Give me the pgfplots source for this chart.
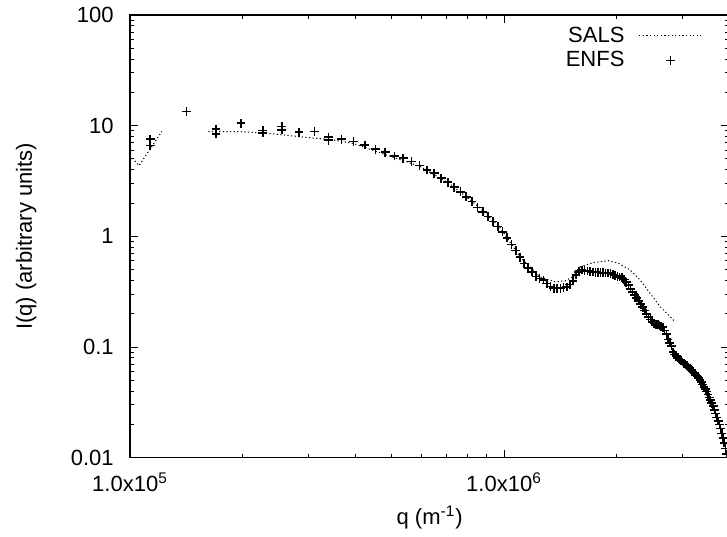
\documentclass[border=0pt]{standalone}
\usepackage{fontspec}
\setmainfont{Liberation Sans}
\usepackage{pgfplots}
\pgfplotsset{compat=1.18}
\newcommand{\fs}{\fontsize{11}{13}\selectfont}
\pgfplotsset{
  salsleg/.style={legend image code/.code={\draw[##1] (0pt,0pt) -- (31pt,0pt);}},
  enfsleg/.style={legend image code/.code={\draw[##1, mark options={line width=0.5pt}] plot coordinates {(15.5pt,0pt)};}},
}
\begin{document}
\begin{tikzpicture}
\begin{axis}[
  at={(0,0)}, anchor=south west,
  scale only axis, width=299.6pt, height=221.35pt,
  xmode=log, ymode=log,
  xmin=1e5, xmax=4e6, ymin=0.01, ymax=100,
  xtick={1e5,1e6},
  xticklabels={1.0x10\textsuperscript{5},1.0x10\textsuperscript{6}},
  minor xtick={2e5,3e5,4e5,5e5,6e5,7e5,8e5,9e5,2e6,3e6,4e6},
  ytick={0.01,0.1,1,10,100},
  yticklabels={0.01,0.1,1,10,100},
  minor ytick={0.02,0.03,0.04,0.05,0.06,0.07,0.08,0.09,0.2,0.3,0.4,0.5,0.6,0.7,0.8,0.9,2,3,4,5,6,7,8,9,20,30,40,50,60,70,80,90},
  major tick length=4pt, minor tick length=2pt,
  tick style={black, line width=0.5pt},
  axis line style={line width=0.6pt},
  tick label style={font=\fs},
  xticklabel style={anchor=base, yshift=-16.7pt, inner sep=0pt},
  yticklabel style={anchor=east, xshift=-8pt, inner sep=0pt},
  xlabel={q (m\textsuperscript{-1})},
  ylabel={I(q) (arbitrary units)},
  every axis x label/.style={at={(axis description cs:0.5,0)}, anchor=base, yshift=-33.2pt, inner sep=0pt, font=\fs},
  every axis y label/.style={at={(axis description cs:-0.164,0.5)}, rotate=90, anchor=base, inner sep=0pt, font=\fs},
  legend style={at={(1,1)}, anchor=north east, xshift=-13.75pt, yshift=-5.85pt,
    draw=none, fill=none, inner sep=0pt, outer sep=0pt, font=\fs,
    row sep=3.25pt, column sep=7.15pt, nodes={inner sep=0pt, outer sep=0pt}},
  legend cell align=right,
  legend plot pos=right,
  clip marker paths=true,
  unbounded coords=jump,
]
\addplot[black, line width=0.5pt, dash pattern=on 0.6pt off 1.2pt, salsleg]
coordinates {
(100000,5.37)(105700,4.35)(121600,8.87)(140000,nan)
(162000,8.83)(196800,8.83)(232000,8.54)(284800,7.95)(349000,7.43)(394700,6.93)
(504900,5.18)(596300,4.28)(717200,2.97)(862700,1.806)(975700,1.203)
(1104000,0.651)(1248000,0.430)(1369000,0.388)(1456000,0.396)(1548000,0.439)
(1597000,0.529)(1733000,0.579)(1901000,0.603)(2021000,0.571)(2173000,0.497)
(2310000,0.404)(2457000,0.306)(2613000,0.232)(2779000,0.188)(2866000,0.1696)
};
\addlegendentry{SALS}
\addplot[black, only marks, mark=+, mark size=2.2pt, mark options={line width=0.8pt}, enfsleg]
coordinates {
(113200,7.58)(113200,6.60)(141500,13.38)(169800,9.34)(169800,8.41)(198100,10.51)
(226400,9.01)(226400,8.59)(254700,9.79)(254700,9.14)(283000,8.72)(311300,8.83)
(339600,7.86)(339600,7.38)(367900,7.54)
(396200,7.17)(424500,6.69)(452800,6.12)(481100,5.75)(509400,5.32)(537700,5.08)
(566000,4.73)(594300,4.35)(622600,3.98)(650900,3.72)(679200,3.35)(707500,3.08)
(735800,2.78)(764100,2.53)(792400,2.28)(820700,2.06)(849000,1.83)(877300,1.67)
(905600,1.51)(933900,1.36)(962200,1.224)(990500,1.10)(1018800,0.969)(1047100,0.841)
(1075400,0.746)(1103700,0.647)(1132000,0.570)(1160300,0.516)(1188600,0.476)
(1216900,0.435)(1245200,0.417)(1273500,0.404)(1301800,0.375)(1330100,0.353)
(1358400,0.340)(1386700,0.340)(1415000,0.340)(1443300,0.345)(1471600,0.349)
(1499900,0.367)(1528200,0.396)(1556500,0.449)(1584800,0.478)(1613100,0.497)
(1641400,0.491)(1669700,0.486)(1698000,0.480)(1726300,0.477)(1754600,0.475)
(1782900,0.472)(1811200,0.470)(1839500,0.468)(1867800,0.467)(1896100,0.466)
(1924400,0.462)(1952700,0.453)(1981000,0.444)(2009300,0.437)(2037600,0.430)
(2065900,0.423)(2094200,0.409)(2122500,0.385)(2150800,0.363)(2179100,0.336)
(2207400,0.314)(2235700,0.294)(2264000,0.278)(2292300,0.262)(2320600,0.244)
(2348900,0.229)(2377200,0.213)(2405500,0.200)(2433800,0.187)(2462100,0.1776)
(2490400,0.1693)(2518700,0.1631)(2547000,0.1611)(2575300,0.1591)(2603600,0.1564)
(2631900,0.1536)(2660200,0.1510)(2688500,0.1409)(2716800,0.1305)(2745100,0.1174)
(2773400,0.1093)(2801700,0.1021)(2830000,0.0901)(2858300,0.0855)(2886600,0.0828)
(2914900,0.0800)(2943200,0.0774)(2971500,0.0753)(2999800,0.0732)(3028100,0.0714)
(3056400,0.0695)(3084700,0.0678)(3113000,0.0660)(3141300,0.0645)(3169600,0.0622)
(3197900,0.0599)(3226200,0.0580)(3254500,0.0560)(3282800,0.0541)(3311100,0.0523)
(3339400,0.0505)(3367700,0.0483)(3396000,0.0458)(3424300,0.0437)(3452600,0.0416)
(3480900,0.0397)(3509200,0.0374)(3537500,0.0351)(3565800,0.0331)(3594100,0.0311)
(3622400,0.0292)(3650700,0.0270)(3679000,0.0251)(3707300,0.0231)(3735600,0.0215)
(3763900,0.0200)(3792200,0.0183)(3820500,0.0166)(3848800,0.0150)(3877100,0.0136)
(3905400,0.0121)(3933700,0.0108)
};
\addlegendentry{ENFS}
\end{axis}
\pgfresetboundingbox
\path (-65pt,-39.15pt) rectangle (298.5pt,228.85pt);
\end{tikzpicture}
\end{document}
